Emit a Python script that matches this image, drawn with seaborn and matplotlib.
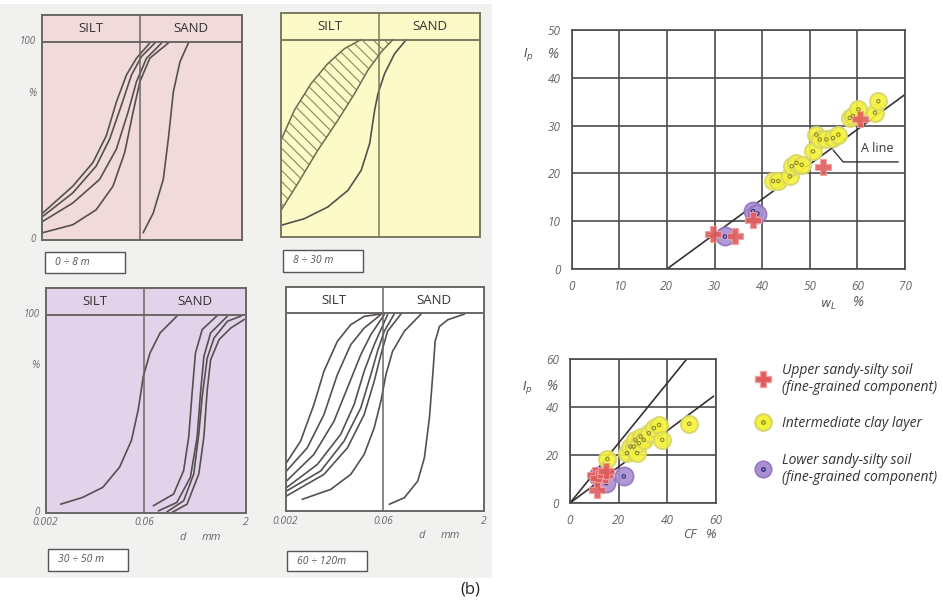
import numpy as np
import pandas as pd
import matplotlib
matplotlib.use("Agg")
import matplotlib.pyplot as plt
import matplotlib.transforms as mtransforms
from matplotlib.patches import Rectangle
from matplotlib.lines import Line2D
from matplotlib.ticker import NullLocator
import seaborn as sns

# ---------------- data ----------------
# grain size curves (d in mm, percent passing)
p1_d = [
    [0.00205, 0.0058, 0.0116, 0.01845, 0.0261, 0.0369, 0.0522, 0.0828],
    [0.00205, 0.0058, 0.01303, 0.0207, 0.0310, 0.0439, 0.0622, 0.0988],
    [0.00205, 0.0058, 0.01462, 0.0261, 0.0391, 0.0522, 0.0739, 0.1245],
    [0.00205, 0.0058, 0.01303, 0.02323, 0.0348, 0.0465, 0.0587, 0.0828, 0.157],
    [0.0659, 0.0932, 0.1319, 0.157, 0.1866, 0.235, 0.314],
]
p1_pct = [
    [13.6, 27.2, 39.1, 52.7, 69.7, 83.3, 91.8, 99.5],
    [11.9, 23.8, 37.4, 51.0, 68.0, 83.3, 92.7, 99.5],
    [9.4, 18.7, 30.6, 45.9, 64.6, 79.9, 91.8, 99.5],
    [3.7, 7.7, 15.3, 27.2, 44.2, 64.6, 79.9, 91.8, 99.5],
    [3.7, 13.6, 30.6, 51.0, 74.8, 90.1, 99.5],
]
p2_band_upper_d = [0.002, 0.00318, 0.00569, 0.01016, 0.01815, 0.0324]
p2_band_upper_pct = [49.0, 64.2, 77.7, 87.8, 95.4, 100.0]
p2_band_lower_d = [0.002, 0.00357, 0.00717, 0.01439, 0.0257, 0.0409, 0.0651, 0.0977]
p2_band_lower_pct = [13.5, 27.0, 43.9, 59.1, 72.6, 84.5, 93.8, 100.0]
p2_d = [[0.002, 0.00451, 0.01016, 0.0204, 0.0324, 0.0434, 0.0516, 0.0580, 0.0731, 0.1036, 0.1555]]
p2_pct = [[5.9, 9.3, 15.2, 23.6, 33.8, 47.3, 64.2, 72.6, 82.8, 92.9, 100.0]]
p3_d = [
    [0.00337, 0.00717, 0.01439, 0.0257, 0.0386, 0.0487, 0.0580, 0.0731, 0.1036, 0.185],
    [0.0821, 0.165, 0.2335, 0.278, 0.312, 0.3505, 0.442, 0.745],
    [0.0977, 0.185, 0.2944, 0.3715, 0.417, 0.4685, 0.591, 1.056],
    [0.1306, 0.2335, 0.3307, 0.3936, 0.442, 0.526, 0.664, 1.056, 1.68],
    [0.1555, 0.2623, 0.3936, 0.4685, 0.526, 0.591, 0.790, 1.186, 1.887],
]
p3_pct = [
    [4.2, 7.6, 12.7, 22.9, 36.4, 51.7, 68.6, 80.5, 90.7, 99.2],
    [3.4, 9.3, 21.2, 38.1, 60.2, 80.5, 92.4, 99.5],
    [0.8, 5.1, 17.8, 38.1, 60.2, 78.8, 90.7, 99.2],
    [0.3, 5.9, 19.5, 39.8, 58.5, 78.0, 88.1, 96.6, 99.2],
    [0.0, 4.2, 19.5, 38.1, 61.9, 77.1, 87.3, 93.2, 97.5],
]
p4_d = [
    [0.00207, 0.00338, 0.00538, 0.00763, 0.01216, 0.01938, 0.0309, 0.0553],
    [0.00207, 0.00426, 0.00763, 0.01216, 0.01938, 0.0309, 0.0553],
    [0.00207, 0.00538, 0.01083, 0.01726, 0.0275, 0.0390, 0.0622],
    [0.00207, 0.00605, 0.01366, 0.02178, 0.0309, 0.0438, 0.0698],
    [0.00207, 0.00680, 0.01536, 0.0275, 0.0390, 0.0492, 0.0622, 0.0881],
    [0.00207, 0.00763, 0.01726, 0.0309, 0.0438, 0.0553, 0.0698, 0.1112],
    [0.00358, 0.00964, 0.01938, 0.0309, 0.0438, 0.0553, 0.0659, 0.0831, 0.125, 0.2239],
    [0.0740, 0.125, 0.1992, 0.2514, 0.2995, 0.3365, 0.3650, 0.4247, 0.5684, 1.0177],
]
p4_pct = [
    [24.4, 35.3, 53.8, 70.6, 85.7, 94.1, 98.3, 99.5],
    [20.2, 31.9, 48.7, 68.9, 84.0, 92.4, 99.2],
    [15.1, 28.6, 45.4, 62.2, 79.0, 89.1, 99.2],
    [11.8, 23.5, 38.7, 53.8, 70.6, 84.0, 99.2],
    [10.1, 20.2, 35.3, 52.1, 68.9, 80.7, 90.8, 99.5],
    [7.6, 18.5, 31.9, 48.7, 65.5, 79.0, 90.8, 99.5],
    [5.9, 10.9, 18.5, 28.6, 42.0, 55.5, 68.9, 80.7, 90.8, 99.5],
    [3.4, 6.7, 15.1, 26.9, 47.1, 68.9, 85.7, 93.2, 96.6, 99.5],
]
depth_labels = ["0 ÷ 8 m", "8 ÷ 30 m", "30 ÷ 50 m", "60 ÷ 120m"]
size_ticks = [0.002, 0.06, 2]
size_tick_labels = ["0.002", "0.06", "2"]

# plasticity chart (wL, Ip)
upper_wl = [29.6, 34.3, 38.1, 52.8, 60.5]
upper_ip = [7.4, 6.8, 10.3, 21.3, 31.3]
lower_wl = [32.2, 38.1, 39.0]
lower_ip = [6.8, 12.1, 11.6]
clay_wl = [42.3, 43.4, 45.8, 46.2, 47.2, 48.3, 50.7, 51.4, 52.1, 53.5, 54.9, 56.0, 58.4, 59.1, 60.2, 63.7, 64.4]
clay_ip = [18.4, 18.4, 19.4, 21.5, 22.2, 21.8, 24.6, 28.1, 27.1, 27.1, 27.4, 28.1, 31.6, 32.0, 33.4, 32.7, 35.1]
aline_wl = [20, 70]
aline_ip = [0, 36.5]

# activity chart (CF, Ip)
clay_cf = [15.4, 23.4, 24.8, 26.2, 26.9, 27.6, 28.3, 29.0, 30.3, 32.4, 34.5, 36.6, 37.9, 49.0]
clay_ip2 = [18.3, 20.8, 23.5, 23.5, 26.3, 20.8, 24.9, 27.7, 26.3, 29.1, 31.2, 32.5, 26.3, 33.0]
upper_cf = [10.3, 11.7, 14.5, 14.9, 11.0]
upper_ip2 = [11.8, 10.4, 11.8, 13.2, 5.5]
lower_cf = [11.7, 14.9, 22.1]
lower_ip2 = [11.1, 8.3, 11.1]
act_hi_cf = [0, 48]
act_hi_ip = [0, 60]
act_lo_cf = [0, 59]
act_lo_ip = [0, 44.5]

legend_labels = ["Upper sandy-silty soil\n(fine-grained component)",
                 "Intermediate clay layer",
                 "Lower sandy-silty soil\n(fine-grained component)"]

# ---------------- style ----------------
sns.set_theme(style="white")
plt.rcParams['font.family'] = ['Open Sans', 'DejaVu Sans']
plt.rcParams['hatch.linewidth'] = 0.8

W, H = 943, 603
fig = plt.figure(figsize=(W / 100, H / 100), dpi=100)
fig.patch.set_facecolor("white")

def px_axes(x0, y0, x1, y1):
    return fig.add_axes([x0 / W, 1 - y1 / H, (x1 - x0) / W, (y1 - y0) / H])

def ftext(px, py, s, **kw):
    fig.text(px / W, 1 - py / H, s, **kw)

# scanned background on the left
fig.patches.append(Rectangle((0, 1 - 578 / H), 492 / W, 574 / H, transform=fig.transFigure,
                             facecolor="#f1f1ef", edgecolor="none", zorder=-10))

CURVE = "#545050"
FRAME = "#6a6666"
TICKC = "#6a6a6a"

def grain_panel(box, bg, curves_d, curves_pct, show_y, show_x, frame_col=FRAME):
    x0, y0, y100, x1, y1 = box
    ytop = 100 + (y100 - y0) / (y1 - y100) * 100
    ax = px_axes(x0, y0, x1, y1)
    ax.set_facecolor(bg)
    ax.set_xscale("log")
    ax.set_xlim(0.002, 2)
    ax.set_ylim(0, ytop)
    for d, p in zip(curves_d, curves_pct):
        sns.lineplot(x=d, y=p, sort=False, estimator=None, ax=ax, color=CURVE, lw=1.2)
    ax.axhline(100, color=frame_col, lw=1.4)
    ax.axvline(0.06, color=frame_col, lw=1.1)
    ym = (100 + ytop) / 2
    ax.text(np.sqrt(0.002 * 0.06), ym, "SILT", ha="center", va="center", fontsize=9.5, color="#333333")
    ax.text(np.sqrt(0.06 * 2), ym, "SAND", ha="center", va="center", fontsize=9.5, color="#333333")
    for sp in ax.spines.values():
        sp.set_color(frame_col)
        sp.set_linewidth(1.4)
        sp.set_visible(True)
    ax.set_xticks([])
    ax.set_yticks([])
    ax.xaxis.set_minor_locator(NullLocator())
    ax.set_xlabel("")
    ax.set_ylabel("")
    ax.tick_params(length=0)
    if show_y:
        tr = mtransforms.blended_transform_factory(ax.transAxes, ax.transData)
        ax.text(-0.03, 100, "100", transform=tr, ha="right", va="center", fontsize=7, style="italic", color=TICKC)
        ax.text(-0.03, 74, "%", transform=tr, ha="right", va="center", fontsize=7.5, style="italic", color=TICKC)
        ax.text(-0.03, 0, "0", transform=tr, ha="right", va="center", fontsize=7, style="italic", color=TICKC)
    if show_x:
        tr = mtransforms.blended_transform_factory(ax.transData, ax.transAxes)
        for v, lab in zip(size_ticks, size_tick_labels):
            ax.text(v, -0.045, lab, transform=tr, ha="center", va="center", fontsize=7.5, style="italic", color=TICKC)
        ax.text(0.686, -0.11, "d", transform=ax.transAxes, ha="center", va="center", fontsize=8, style="italic", color=TICKC)
        ax.text(0.83, -0.11, "mm", transform=ax.transAxes, ha="center", va="center", fontsize=8, style="italic", color=TICKC)
    return ax

ax1 = grain_panel((42, 15, 42, 242, 240), "#f1dada", p1_d, p1_pct, True, False)
ax2 = grain_panel((281, 13, 39.5, 480, 237), "#fcfac6", p2_d, p2_pct, False, False, frame_col="#7a7860")
band_d = list(p2_band_upper_d) + list(p2_band_lower_d[::-1])
band_p = list(p2_band_upper_pct) + list(p2_band_lower_pct[::-1])
ax2.fill(band_d, band_p, facecolor="none", edgecolor="#8a8860", hatch="\\\\\\", lw=0)
sns.lineplot(x=p2_band_upper_d, y=p2_band_upper_pct, sort=False, estimator=None, ax=ax2, color="#6e6c50", lw=1.1)
sns.lineplot(x=p2_band_lower_d, y=p2_band_lower_pct, sort=False, estimator=None, ax=ax2, color="#6e6c50", lw=1.1)
ax3 = grain_panel((45.5, 288, 314.5, 246, 512.5), "#e2d3ea", p3_d, p3_pct, True, True)
ax4 = grain_panel((285.5, 287, 313, 484, 511), "#ffffff", p4_d, p4_pct, False, True)

# depth label boxes
for (bx0, by0, bx1, by1), lab in zip([(45, 252, 125, 273), (283, 250, 363, 272),
                                      (48, 549, 128, 571), (287, 551, 367, 571)], depth_labels):
    fig.patches.append(Rectangle((bx0 / W, 1 - by1 / H), (bx1 - bx0) / W, (by1 - by0) / H,
                                 transform=fig.transFigure, facecolor="white", edgecolor="#555555", lw=1.0))
    ftext(bx0 + 10, (by0 + by1) / 2, lab, ha="left", va="center", fontsize=7.5, style="italic", color="#555555")

ftext(470, 590, "(b)", ha="center", va="center", fontsize=12, color="#222222")

# ---------------- plasticity chart ----------------
GRID = "#4c4c4c"
YEL_F, YEL_E = "#f5f23a", "#d9d66a"
PUR_F, PUR_E = "#a98fd0", "#8e72c4"
RED = "#e05c5c"

def style_chart(ax, xmax, ymax, step):
    ax.set_xlim(0, xmax)
    ax.set_ylim(0, ymax)
    ax.set_xticks(np.arange(0, xmax + 1, step))
    ax.set_yticks(np.arange(0, ymax + 1, step))
    ax.grid(True, color=GRID, lw=1.2)
    for sp in ax.spines.values():
        sp.set_visible(True)
        sp.set_color(GRID)
        sp.set_linewidth(1.2)
    ax.tick_params(axis="both", length=4, width=1, color=GRID, labelsize=8.5, labelcolor="#666666", pad=4)
    for t in ax.get_xticklabels() + ax.get_yticklabels():
        t.set_style("italic")
    ax.set_xlabel("")
    ax.set_ylabel("")
    ax.set_facecolor("white")

def draw_points(ax, cx, cy, ux, uy, lx, ly, size):
    sns.scatterplot(x=cx, y=cy, ax=ax, marker="o", s=size, color=YEL_F, edgecolor=YEL_E, linewidth=1.5, alpha=0.9, zorder=3)
    sns.scatterplot(x=cx, y=cy, ax=ax, marker="o", s=6, facecolor="none", edgecolor="#8d8a30", linewidth=0.8, zorder=4)
    sns.scatterplot(x=lx, y=ly, ax=ax, marker="o", s=size * 1.15, color=PUR_F, edgecolor=PUR_E, linewidth=1.2, alpha=0.9, zorder=5)
    sns.scatterplot(x=lx, y=ly, ax=ax, marker="o", s=6, facecolor="none", edgecolor="#2f2f80", linewidth=0.8, zorder=6)
    sns.scatterplot(x=ux, y=uy, ax=ax, marker="P", s=size * 0.8, color=RED, edgecolor="#f0a0a0", linewidth=0.8, alpha=0.9, zorder=7)

axp = px_axes(571.7, 30, 905, 269)
style_chart(axp, 70, 50, 10)
sns.lineplot(x=aline_wl, y=aline_ip, ax=axp, color="#333333", lw=1.2, zorder=2)
draw_points(axp, clay_wl, clay_ip, upper_wl, upper_ip, lower_wl, lower_ip, 150)
axp.plot([54.9, 57.0, 68.6], [24.9, 22.4, 22.4], color="#333333", lw=1.0, zorder=2)
axp.text(64.2, 25.2, "A line", ha="center", va="center", fontsize=9, color="#333333",
         bbox=dict(facecolor="white", edgecolor="none", pad=1))
ftext(528, 55, "$I_p$", ha="center", va="center", fontsize=9, color="#555555")
ftext(553, 55, "%", ha="center", va="center", fontsize=10, style="italic", color="#555555")
ftext(828, 305, "$w_L$", ha="center", va="center", fontsize=9, color="#555555")
ftext(858, 303, "%", ha="center", va="center", fontsize=10, style="italic", color="#555555")

# ---------------- activity chart ----------------
axa = px_axes(570, 359, 716, 503)
style_chart(axa, 60, 60, 20)
sns.lineplot(x=act_hi_cf, y=act_hi_ip, ax=axa, color="#333333", lw=1.2, zorder=2)
sns.lineplot(x=act_lo_cf, y=act_lo_ip, ax=axa, color="#333333", lw=1.2, zorder=2)
draw_points(axa, clay_cf, clay_ip2, upper_cf, upper_ip2, lower_cf, lower_ip2, 150)
ftext(527, 387, "$I_p$", ha="center", va="center", fontsize=9, color="#555555")
ftext(552, 387, "%", ha="center", va="center", fontsize=10, style="italic", color="#555555")
ftext(690, 534, "CF", ha="center", va="center", fontsize=9, style="italic", color="#555555")
ftext(711, 535, "%", ha="center", va="center", fontsize=9.5, style="italic", color="#555555")

# legend
h_red = Line2D([], [], ls="none", marker="P", markersize=11, color=RED, markeredgecolor="#f0a0a0")
h_yel = (Line2D([], [], ls="none", marker="o", markersize=12, markerfacecolor=YEL_F, markeredgecolor=YEL_E, markeredgewidth=1.5),
         Line2D([], [], ls="none", marker="o", markersize=2.5, markerfacecolor="none", markeredgecolor="#8d8a30"))
h_pur = (Line2D([], [], ls="none", marker="o", markersize=12, markerfacecolor=PUR_F, markeredgecolor=PUR_E),
         Line2D([], [], ls="none", marker="o", markersize=2.5, markerfacecolor="none", markeredgecolor="#2f2f80"))
fig.legend([h_red, h_yel, h_pur], legend_labels, loc="upper left", bbox_to_anchor=(742 / W, 1 - 350 / H),
           frameon=False, prop={"style": "italic", "size": 10}, labelspacing=1.55, handletextpad=0.8,
           handlelength=1.2, labelcolor="#333333")

fig.savefig("out.png", dpi=100, facecolor="white")
